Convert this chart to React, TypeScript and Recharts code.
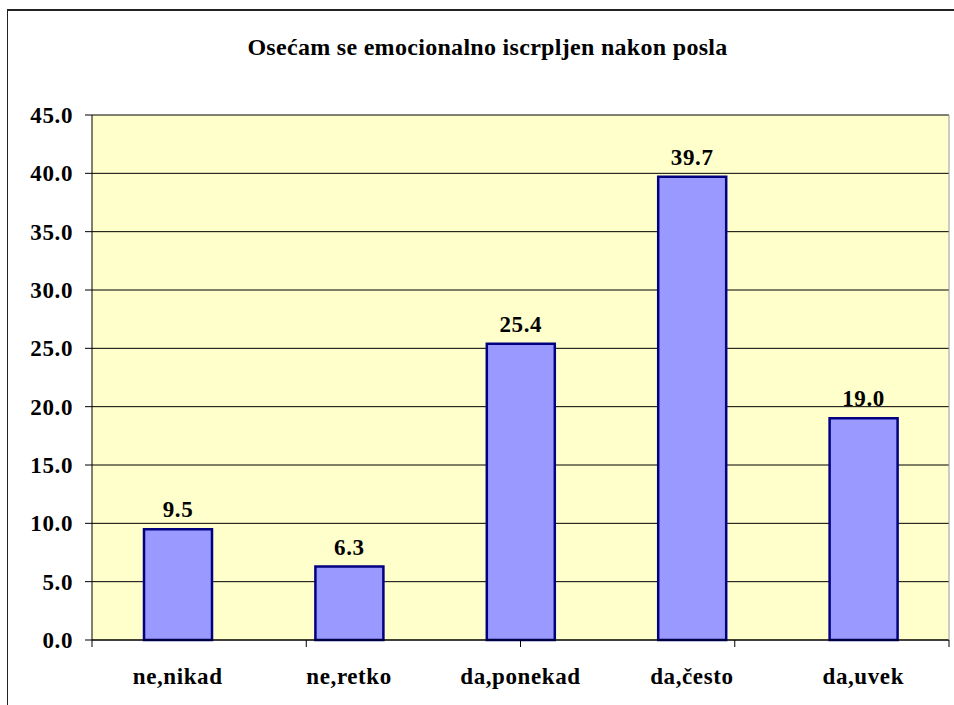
import { BarChart, Bar, XAxis, YAxis, CartesianGrid, LabelList } from "recharts";

const categories = ["ne,nikad", "ne,retko", "da,ponekad", "da,često", "da,uvek"];
const values = [9.5, 6.3, 25.4, 39.7, 19.0];
const yTicks = [0, 5, 10, 15, 20, 25, 30, 35, 40, 45];
const boundaryTicks = [0, 1, 2, 3, 4, 5];
const title = "Osećam se emocionalno iscrpljen nakon posla";

const data = categories.map((name, i) => ({ name, value: values[i] }));

const serif = "Times New Roman, Liberation Serif, serif";
const textStyle = {
  fontFamily: serif,
  fontWeight: 700,
  fontSize: 23,
  fill: "#000",
  letterSpacing: 0.6,
};

export default function App() {
  return (
    <div
      style={{
        position: "absolute",
        left: 0,
        top: 0,
        width: 954,
        height: 705,
        background: "#fff",
        overflow: "hidden",
      }}
    >
      {/* chart frame, runs off the right and bottom edge */}
      <div
        style={{
          position: "absolute",
          left: 7,
          top: 9,
          width: 980,
          height: 720,
          borderTop: "2px solid #222",
          borderLeft: "1px solid #222",
        }}
      />
      <div
        style={{
          position: "absolute",
          left: 0,
          top: 33,
          width: 975,
          textAlign: "center",
          fontFamily: serif,
          fontWeight: 700,
          fontSize: 24,
          letterSpacing: 0.3,
          lineHeight: "28px",
          color: "#000",
        }}
      >
        {title}
      </div>
      <div style={{ position: "absolute", left: 0, top: 0 }}>
        <BarChart
          width={954}
          height={705}
          data={data}
          margin={{ top: 115, right: 4, left: 0, bottom: 14 }}
        >
          <CartesianGrid
            xAxisId="b"
            yAxisId="left"
            vertical={false}
            fill="#FFFFCC"
            fillOpacity={1}
            stroke="#000"
            strokeWidth={1}
          />
          <XAxis
            xAxisId="b"
            dataKey="name"
            height={50}
            tickSize={7}
            tickMargin={20}
            axisLine={false}
            tickLine={false}
            tick={textStyle}
          />
          <XAxis
            xAxisId="a"
            type="number"
            domain={[0, 5]}
            ticks={boundaryTicks}
            height={1}
            tickSize={7}
            tickFormatter={() => ""}
            axisLine={{ stroke: "#000" }}
            tickLine={{ stroke: "#000" }}
          />
          <YAxis
            yAxisId="left"
            domain={[0, 45]}
            ticks={yTicks}
            width={92}
            tickSize={7}
            tickMargin={12}
            tickFormatter={(v: number) => v.toFixed(1)}
            axisLine={{ stroke: "#000" }}
            tickLine={{ stroke: "#000" }}
            tick={textStyle}
          />
          <YAxis
            yAxisId="right"
            orientation="right"
            width={1}
            domain={[0, 45]}
            tick={false}
            tickLine={false}
            axisLine={{ stroke: "#999" }}
          />
          <Bar
            dataKey="value"
            xAxisId="b"
            yAxisId="left"
            fill="#9999FF"
            stroke="#000080"
            strokeWidth={2.5}
            barSize={68}
            isAnimationActive={false}
          >
            <LabelList
              dataKey="value"
              position="top"
              offset={12}
              formatter={(v: number) => Number(v).toFixed(1)}
              {...textStyle}
            />
          </Bar>
        </BarChart>
      </div>
    </div>
  );
}
